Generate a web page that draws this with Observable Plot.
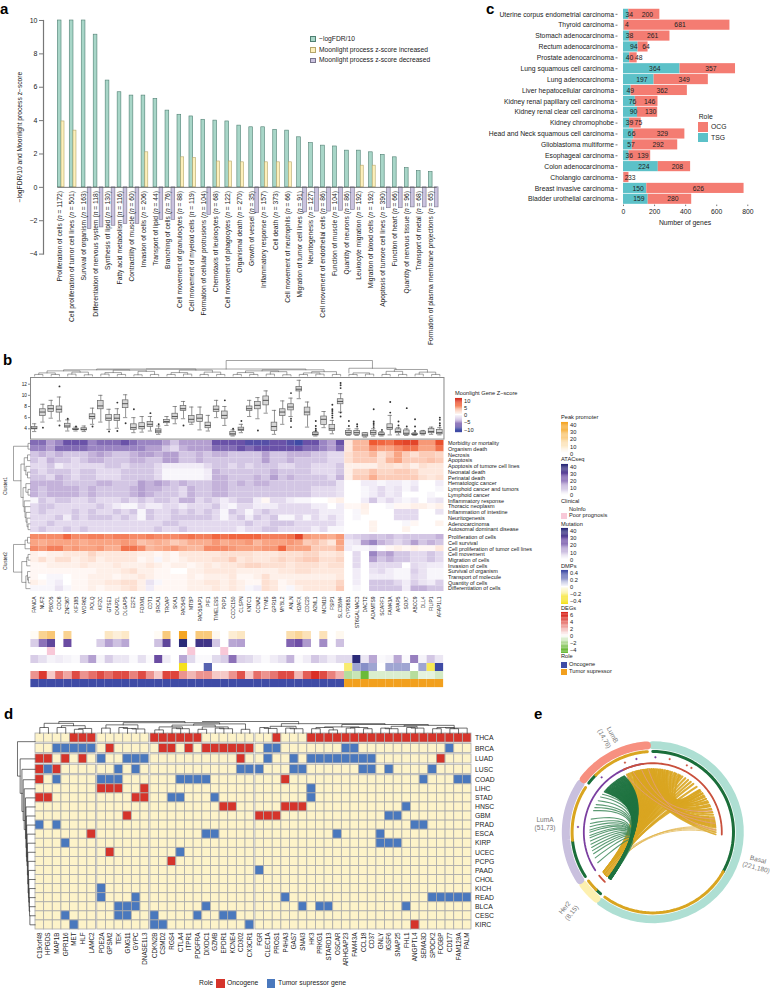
<!DOCTYPE html>
<html><head><meta charset="utf-8">
<script src="https://cdn.jsdelivr.net/npm/d3@7"></script>
<script src="https://cdn.jsdelivr.net/npm/@observablehq/plot@0.6"></script>
<style>
html,body{margin:0;padding:0;background:#fff}
#fig{position:relative;width:770px;height:988px;overflow:hidden;font-family:"Liberation Sans",Arial,sans-serif;color:#222}
#fig svg{position:absolute;background:none;overflow:visible}
.lab{position:absolute;white-space:nowrap;line-height:1}
.sw{position:absolute;box-sizing:border-box}
</style></head><body><div id="fig"></div>
<script>
// ---------- panel a ----------
const processes=["Proliferation of cells (n = 1172)","Cell proliferation of tumor cell lines (n = 501)","Survival of organism (n = 163)","Differentiation of nervous system (n = 118)","Synthesis of lipid (n = 130)","Fatty acid metabolism (n = 116)","Contractility of muscle (n = 60)","Invasion of cells (n = 206)","Transport of lipid (n = 44)","Branching of cells (n = 76)","Cell movement of granulocytes (n = 88)","Cell movement of myeloid cells (n = 119)","Formation of cellular protrusions (n = 104)","Chemotaxis of leukocytes (n = 68)","Cell movement of phagocytes (n = 122)","Organismal death (n = 270)","Growth of vessel (n = 35)","Inflammatory response (n = 157)","Cell death (n = 373)","Cell movement of neutrophils (n = 66)","Migration of tumor cell lines (n = 91)","Neuritogenesis (n = 127)","Cell movement of endothelial cells (n = 86)","Function of muscle (n = 104)","Quantity of neurons (n = 86)","Leukocyte migration (n = 192)","Migration of blood cells (n = 192)","Apoptosis of tumore cell lines (n = 390)","Function of heart (n = 66)","Quantity of nervous tissue (n = 96)","Transport of metal (n = 68)","Formation of plasma membrane projections (n = 65)"];
const logFDR=[10,10,10,9.15,6.4,5.7,5.5,5.5,5.3,4.6,4.35,4.25,4.05,4,3.95,3.7,3.6,3.6,3.45,3.4,3,2.65,2.5,2.45,2.2,2.2,2.1,1.95,1.8,1.15,.97,.92];
const processZ=[3.95,3.4,-2.5,-2.4,-2.3,-2.2,-2.2,2.1,-1.95,-1.95,1.8,1.75,-1.65,1.55,1.55,1.5,-1.55,1.5,1.5,1.5,-1.5,-1.45,-1.45,-1.4,-1.35,1.3,1.3,-1.25,-1.25,-1.2,-1.2,-1.2];
// ---------- panel b ----------
const genes=["FANCA","NUF2","PBXD5","CDC6","ZNF367","KIF18B","WDR62","POLQ","KIF2C","GTSE1","CKAP2L","DLGAP5","E2F2","FOXM1","CDT1","BRCA1","TROAP","SKA1","RAD54B","MTBP","RAD51AP1","PIF1","TIMELESS","POP1","CCDC150","CLSPN","KNTC1","CCNA2","TYMS","GPR19","MYBL2","ANLN","H2AFX","CDC20","A2ML1","MCM10","FSIP1","SLC35M4","CYP26B1","ST6GALNAC3","DACT2","ADAMTS9","SCARF1","FAM43A","APAP5","SOX7","ABCC9","DLL4","FILIP1","AFAP1L1"];
// lo, q1, median, q3, hi, outliers
const boxStats=[[3.5,3.9,4.1,4.3,4.9,[]],[5.2,6.3,7,7.5,8.4,[4.2]],[5.9,7,7.6,8.1,9.1,[]],[5.4,6.9,7.5,8,9.7,[11.6,4.6]],[3.6,4.2,4.5,4.9,5.6,[5.8]],[3.6,3.8,3.9,4,4.3,[4.4]],[3.5,3.7,3.9,4.1,4.5,[]],[4.8,5.7,6.2,6.6,7.7,[4.4]],[5.2,7.5,8.1,9,10,[]],[3.9,5.4,5.9,6.5,7.5,[3.5]],[4.1,5.4,5.9,6.5,7.6,[3.6,8.7]],[6,7.7,8.5,9.1,10.1,[5]],[3.3,3.8,4.2,4.8,6,[7.5]],[3.4,3.9,4.4,5,6.2,[]],[3.6,4.3,4.8,5.2,6.2,[6.8]],[3,3.2,3.6,3.9,4.5,[4.8]],[4.6,5,5.3,5.6,6.2,[]],[4.9,5.7,6.2,6.7,8,[]],[5.8,7.2,7.6,8.1,8.9,[4.6]],[4.8,5.1,5.7,6.3,7.9,[]],[3.8,5.2,5.9,6.5,7.9,[]],[3.6,4.1,4.6,5.1,6.4,[]],[6,7,7.5,8,9.1,[]],[4.6,5.8,6.4,7.1,8,[9.1]],[2.7,2.8,3.1,3.4,3.8,[4]],[3.3,3.6,3.9,4.2,4.8,[5.4]],[6.2,7.2,7.6,8,9.1,[]],[5.8,7.5,8.2,8.8,9.6,[3.7]],[6.8,8.2,9.1,9.8,10.8,[]],[3,3.6,4.4,5.1,7.3,[]],[4.8,6.3,7,7.5,9,[]],[6.2,7.3,7.9,8.4,9.5,[10.4,5.8,5.4,4.3]],[9.4,10.7,11.1,11.5,12.7,[]],[4.3,6.4,7,7.8,8.8,[]],[2.7,2.8,3,3.3,3.5,[3.7,4,4.5,5.4]],[4.2,4.7,5.7,6.2,7.1,[]],[3.1,3.6,4,4.7,5.5,[6,6.4,6.8,7.2,7.5,8.3]],[7,8.4,8.9,9.3,10.3,[6.2,6.9,11.3,11.8,12.2]],[2.8,2.9,3.3,3.6,4,[4.5,5.4]],[2.8,2.9,3.3,3.6,4,[4.4,4.8]],[2.5,2.6,2.9,3.2,3.3,[]],[2.7,2.9,3.3,3.6,4,[4.3,4.7,5,5.3,7.5]],[2.7,2.8,3,3.2,3.5,[3.8]],[2.9,3.8,4.2,4.8,6.4,[6.9,8.8]],[2.9,3.2,3.5,3.9,4.2,[4.6,5.3]],[2.8,2.9,3.2,3.7,4,[4.4,7.7]],[2.8,2.9,3,3.1,3.3,[3.6,4.4,5.7]],[2.9,3,3.2,3.5,3.7,[]],[3,3.2,3.5,4,4.3,[]],[2.9,3,3.3,3.8,4.2,[4.6,5,5.6,6]]];
const cluster1Rows=["Morbidity or mortality","Organism death","Necrosis","Apoptosis","Apoptosis of tumore cell lines","Neonatal death","Perinatal death","Hematologic cancer","Lymphoid cancer and tumors","Lymphoid cancer","Inflammatory response","Thoracic neoplasm","Inflammation of intestine","Neuritogenesis","Adenocarcinoma","Autosomal dominant disease"];
const cluster2Rows=["Proliferation of cells","Cell survival","Cell proliferation of tumor cell lines","Cell movement","Migration of cells","Invasion of cells","Survival of organism","Transport of molecule","Quantity of cells","Differentiation of cells"];
const cluster1Z=[
[-7,-7,-5,-6,-8,-8,-8,-6,-7,-7,-7,-8,-7,-6,-6,-6,-5,-3,-5,-5,-5,-5,-8,-8,-8,-8,-9,-9,-9,-8,-8,-9,-10,-8,-8,-6,-5,-8,1.5,4,4,8,7.5,7,8.5,9,9,5.5,5.5,8.5],
[-6,-6,-5,-7,-7,-7,-7,-6,-6,-6,-6,-6,-6,-6,-5,-5,-3,-2,-4,-5,-5,-5,-7,-7,-7,-8,-7,-8,-8,-8,-8,-8,-8,-7,-7,-6,-5,-7,1.5,4,4,6,5,5,6,7,7,5,5,7],
[-3,-4,-3,-4,-3,-3,-3,-4,-5,-4,-3,-3,-4,-5,-5,-4,-5,-5,-3,-3,-4,-3,-4,-4,-3,-3,-3,-3,-5,-3,-3,-4,-4,-4,-3,-3,-2,-2,2,3,3,4,2,3,5,3,2,3,3,2.5],
[-3,-2,-4,-3,-3,-2,-3,-4,-4,-3,-3,-3,-4,-4,-3,-3,-5,-5,-3,-3,-4,-3,-3,-3,-3,-3,-3,-3,-5,-3,-3,-4,-3,-3,-3,-3,-2,-2,2,3,3,3,2,4,5,3,3,3,3.5,3],
[-2,-2,-3,-1,-2,-2,-2,-2,-2,-3,-3,-2,-3,-3,-3,-2,-1,-1,-1,-1,-1,-2,-3,-3,-2,-3,-2,-3,-3,-3,-2,-2,-3,-3,-2,-2,-2,-3,1,1,1,1,2,2,1.5,2,1,2,1.5,1.5],
[-3,-2,-3,-3,-3,-2,-3,-3,-2,-2,-2,-3,-3,-3,-3,-2,-.5,-.5,-.5,-.5,-.5,-1,-4,-3,-3,-3,-3,-3,-3,-4,-3,-3,-3,-3,-2,-2,-2,-3,1,2.5,2.5,3.5,2.5,2.5,3,3,2.5,1.5,1.5,1.5],
[-3,-3,-2,-4,-3,-2,-3,-3,-2,-2,-2,-3,-3,-3,-3,-2,-.5,-.5,-.5,-.5,-.5,-1,-4,-4,-3,-3,-3,-4,-3,-5,-3,-4,-3,-3,-3,-3,-2,-4,1,3,3,4.5,3,3,3,3,3,2,1.5,2],
[-4,-4,-4,-4,-3,-3,-3,-3,-4,-4,-3,-3,-3,-5,-4,-5,-4,-3,-4,-3,-3,-3,-4,-4,-3,-4,-3,-4,-4,-3,-3,-3,-3,-3,-3,-3,-3,-1.5,0,0,-1,-1,-.5,-1,-1,-.5,-1,0,0,-1],
[-4,-3,-4,-4,-4,-4,-3,-4,-3,-3,-3,-3,-4,-5,-4,-4,-3,-3,-2,-4,-3,-3,-4,-4,-3,-3,-3,-3,-3,-3,-3,-3,-3,-3,-2,-2,-2,-1.5,0,0,-.5,-1,-2,-1,-1.5,-.5,-1.5,0,0,-.5],
[-4,-3,-4,-4,-4,-4,-3,-4,-3,-3,-3,-3,-4,-5,-4,-3,-3,-3,-2,-4,-3,-3,-4,-4,-3,-3,-3,-3,-3,-3,-3,-3,-3,-3,-2,-2,-2,-1.5,0,0,-.5,-1,-2,-1,-1.5,0,0,0,-.5,0],
[-.5,-3,-2,-3,-3,-2,-2,-3,-2,-2,-2,-3,-2,-3,-2,-3,-3,-2,-4,-4,-2,-3,-2,-1,-2,-3,-3,-1,.5,-2,-2,-1,-.5,-.5,0,0,.5,1,0,0,-1,-3,-1,-2,-1,-.5,-1,0,-1,-1.5],
[-2,-3,-3,-2,-2,-2,-2,-2,-3,-2,-1,-.5,-.5,-2,-1,-1,-2,-2,-1,-2,-2,-2,-3,-1,-.5,-2,-2,-1,-1,-1,-2,-2,-2,-2,-1,-1,0,-1,.5,.5,1,0,0,-.5,.5,.5,1,1,.5,1],
[-2,-3,-2,-2,-2,-3,-2,-3,-2,-2,-3,-2,-3,-.5,-3,-2,-2,-3,-2,-3,-2,-3,-2,-.5,-3,-2,-.5,-2,-3,-2,-2,-2,-2,-2,-2,-1,-1,-1,0,-.5,.8,0,0,0,-2,-2,-2,0,0,-1.5],
[-2,-2,-2,-3,-1,-3,-2,-3,-3,-3,-2,-3,-2,-.5,-3,-2,-2,-3,-3,-3,-3,-3,-2,-.5,-2,-3,-1,-3,-2,-3,-.5,-.5,-2,-.5,-2,-1,-2,-1,0,-.5,0,0,0,0,-2,-2,-2,0,0,0],
[-2,-2,-3,-2,-2,-2,-2,-2,-2,-2,-2,-2,-2,-2,-2,-2,-3,-3,-2,-2,-2,-2,-2,-2,-2,-2,-3,-2,-2,-3,-3,-3,-2,-2,-2,-2,-2,-1,0,0,0,.8,0,0,0,-.5,.5,0,0,.8],
[-2,-3,-2,-2,-3,-2,-3,-2,-2,-2,-2,-2,-2,-2,-2,-3,-2,-2,-3,-2,-2,-2,-2,-2,-2,-1,-2,-2,-3,-3,-2,-2,-2,-2,-1,-2,-.5,-.5,0,0,0,.8,0,0,0,.8,0,0,0,0]];
const cluster2Z=[
[6,6,6,6,7.5,6,6,6.5,6.5,6,6.5,6.5,6,6,6.5,6,6,6,6.5,7,6.5,6.5,7.5,7,7.5,7.5,7.5,7.5,6.5,6.5,6.5,7,9,5.5,5,5,4.5,5.5,-2,-2.5,-3,-3.5,-3,-3.5,-2.5,-3,-3,-3,-3,-4],
[5,4.5,5,5,5,5,4.5,5,5,5,5,5.5,5,3.5,4,4.5,4,3,3.5,4.5,4.5,4.5,5.5,4.5,5,5,5.5,4,5,5,5,5.5,5,3,3.5,2.5,1.5,5,-1,-1.5,-5,-6,-4,-3,-2,-3,-5,-3,-4,-3],
[6,5.5,6.5,6.5,5,5.5,5,5,5.5,4.5,4.5,7,7,6,4,4.5,5,5.5,4.5,4,4,6,6,6,5.5,5,5,5,5.5,5.5,7.5,5,5,5,3,3,3,4.5,-1,-.5,-.5,-1,0,.5,1,.5,1,.5,.5,1.5],
[1,.5,1,1,1.5,1.5,1.5,2.5,1.5,1.5,1.5,1.5,1.5,1,1,.5,1,.5,1.5,1.5,1.5,1.5,1.5,2,2,2,2,1.5,1.5,1.5,2,2,2,2.5,2.5,1.5,1.5,2,0,-2,0,-6,-4,-5,-3,-3,-2,-2,-3,-2],
[1,2,1,2,2,1,1.5,2,1,1.5,1.5,1.5,1.5,.5,1,-.5,1,.5,1,1.5,1.5,1.5,2,2,3,1.5,2,1.5,1.5,2,2.5,2,2.5,3,3,2,2,2.5,0,-2,0,-5,-3,-4,-3,-3,-2,-2,-3,-2],
[.5,.5,1,1,1,1,1.5,1,1,1,1.5,1,1,1,1.5,1,.5,1,1,.5,1,1.5,1,1.5,1.5,2,2.5,2.5,2,2,2,1.5,2,2,2,1.5,2,2,0,-2,0,-2,-2,-2,-2,0,-2,-1.5,-1,-1],
[.5,.5,.5,.5,.5,.5,.5,.5,1,1,1,1.5,2,1,1,.5,.5,0,0,1,1,1.5,1.5,1.5,1.5,1,1,1,1,1,1.5,1.5,2,2,1.5,1.5,1.5,1.5,0,-1,0,-1.5,-2,-1,-.5,-.5,-2.5,-1.5,-.5,-.5],
[.5,0,-.5,-.5,0,.5,.5,1,1,1,.5,1,1,1.5,1,.5,.5,.5,.5,1,.5,1,1,1,1.5,.5,.5,1,2,1,1,1,1,1,1,1,1,1.5,0,-1,0,-1,-1,-1,-.5,-.5,-2,-1.5,-.5,-.5],
[1,.5,-.5,-1,0,.5,.5,1,1,1.5,1.5,2,2,1,-1.5,-.5,.5,.5,.5,1,1,1.5,1.5,1,1.5,1,.5,.5,2,1.5,.5,1,1.5,1.5,1.5,1.5,1.5,2.5,0,-1,0,-3,-3,-3,-2,-1,-2.5,-1.5,-1,-2.5],
[-.5,-.5,-.5,-1.5,-.5,.5,.5,1,.5,1,1,1.5,2,1,-1,.5,.5,.5,.5,1,1,1,1.5,1,1.5,1,-.5,-1,2,1.5,.5,-.5,1,1.5,1.5,1.5,1.5,3,0,-.5,0,-3,-3,-3,-3,-1,-4,-4,-3,-3]];
const peakPromoter=[2,20,25,0,20,0,0,0,0,11,7,10,0,0,0,2,24,0,40,0,24,24,3,0,8,11,0,0,0,0,0,15,19,13,0,13,0,3,0,0,0,0,0,0,0,0,0,0,0,0];
const atacSeq=[8,22,30,0,28,0,0,0,8,15,10,14,0,0,0,10,30,0,44,0,36,36,9,0,14,15,0,0,0,0,0,24,27,16,0,18,0,10,0,0,0,0,0,0,0,0,0,0,0,0];
const clinical=[0,0,1,0,0,0,0,0,0,0,0,0,0,0,0,0,0,0,0,1,0,0,0,1,0,0,0,0,0,0,0,0,0,0,0,0,0,0,0,0,0,0,0,0,0,0,0,0,0,0];
const mutation=[8,5,2,3,2,1,8,15,2,8,4,4,1,5,1,28,3,0,14,6,1,1,6,8,22,7,6,3,1,3,5,12,1,3,9,6,3,6,6,45,4,14,1,2,14,1,20,2,9,4];
const dmps=[0,0,0,0,0,0,0,0,0,0,0,0,0,0,0,0,0,0,-.4,0,0,.35,0,0,0,0,0,0,0,0,0,0,0,0,0,0,0,0,-.25,.2,.25,.2,0,.2,.2,.2,0,.2,-.3,.4];
const degs=[3,5.5,1.5,4,2.5,5,3,4,5,4,5,5,3.5,5,3,1.5,5.2,5.2,3,2,3,3,1.5,1.5,3,4.8,1.5,4,3,3.8,5,5,2,4.5,5.8,5,3.5,2.2,-2,-1.5,-4,-1,-1,-1,-1,-1,-2,-.7,-.7,-1.2];
const bTopTree=[[.5,0,1.5,0,.1],[2.5,0,3.5,0,.1],[4.5,0,5.5,0,.12],[6.5,0,7.5,0,.08],[8.5,0,9.5,0,.12],[10.5,0,11.5,0,.1],[12.5,0,13.5,0,.08],[14.5,0,15.5,0,.1],[16.5,0,17.5,0,.1],[18.5,0,19.5,0,.12],[20.5,0,21.5,0,.1],[22.5,0,23.5,0,.1],[24.5,0,25.5,0,.1],[26.5,0,27.5,0,.1],[28.5,0,29.5,0,.12],[30.5,0,31.5,0,.08],[32.5,0,33.5,0,.1],[34.5,0,35.5,0,.12],[36.5,0,37.5,0,.1],[38.5,0,39.5,0,.1],[40.5,0,41.5,0,.12],[42.5,0,43.5,0,.1],[44.5,0,45.5,0,.1],[46.5,0,47.5,0,.12],[48.5,0,49.5,0,.1],[1,.1,3,.1,.2],[5,.12,7,.08,.25],[9,.12,11,.1,.22],[13,.08,15,.1,.3],[17,.1,19,.12,.22],[21,.1,23,.1,.25],[25,.1,27,.1,.22],[29,.12,31,.08,.28],[33,.1,35,.12,.2],[39,.1,41,.12,.2],[43,.1,45,.1,.3],[47,.12,49,.1,.25],[2,.2,6,.25,.33],[10,.22,14,.3,.38],[18,.22,22,.25,.38],[26,.22,30,.28,.33],[34,.2,37,.1,.28],[44,.3,48,.25,.42],[4,.33,12,.38,.4],[8,.4,20,.38,.45],[28,.33,35.5,.28,.4],[14,.45,33.3,.4,.45],[38.5,.2,44.2,.42,.5],[23.66,.45,41.35,.5,1]];
const bCluster1Tree=[[.5,0,1.5,0,.12],[2.5,0,3.5,0,.15],[5.5,0,6.5,0,.15],[4.5,0,6,.15,.25],[3,.15,5.25,.25,.35],[8.5,0,9.5,0,.12],[7.5,0,9,.12,.25],[14.5,0,15.5,0,.12],[13.5,0,15,.12,.18],[12.5,0,14.2,.18,.24],[11.5,0,13.4,.24,.3],[10.5,0,12.4,.3,.35],[8.2,.25,11.5,.35,.42],[4.1,.35,9.9,.42,.55],[1,.12,7,.55,1]];
const bCluster2Tree=[[.5,0,1.5,0,.15],[1,.15,2.5,0,.3],[3.5,0,4.5,0,.12],[4,.12,5.5,0,.2],[7.5,0,8.5,0,.1],[6.5,0,8,.1,.15],[7.25,.15,9.5,0,.25],[4.75,.2,8.4,.25,.5],[1.75,.3,6.6,.5,1]];
// ---------- panel c ----------
const cancers=["Uterine corpus endometrial carcinoma","Thyroid carcinoma","Stomach adenocarcinoma","Rectum adenocarcinoma","Prostate adenocarcinoma","Lung squamous cell carcinoma","Lung adenocarcinoma","Liver hepatocellular carcinoma","Kidney renal papillary cell carcinoma","Kidney renal clear cell carcinoma","Kidney chromophobe","Head and Neck squamous cell carcinoma","Glioblastoma multiforme","Esophageal carcinoma","Colon adenocarcinoma","Cholangio carcinoma","Breast invasive carcinoma","Bladder urothelial carcinoma"];
const tsgCounts=[34,4,38,94,40,364,197,49,76,90,39,66,57,36,224,2,150,159];
const ocgCounts=[200,681,261,64,48,357,349,362,146,130,75,329,292,139,208,33,626,280];
// ---------- panel d ----------
const dGenes=["C19orf48","HPGDS","MAP1B","GPR116","MET","HLF","LAMC2","PDE2A","GPSM2","TEK","GNG11","GYPC","DNASE1L3","CDKN2B","CSMD2","RGS4","CTLA4","ITPR1","PDGFRA","DIXDC1","GZMB","EPDR1","KCNE4","CD302","CX3CR1","FGR","CLEC1A","PROS1","P4HA3","GAS7","SNAI3","HK3","PRKG1","STARD13","OSCAR","ARHGAP23","FAM43A","CCL18","CD37","GNLY","IGSF6","SNAP25","FHL1","ANGPTL4","SEMA3D","SPOCK2","FCGBP","CD177","FAM129A","PALM"];
const dTumors=["THCA","BRCA","LUAD","LUSC","COAD","LIHC","STAD","HNSC","GBM","PRAD","ESCA","KIRP","UCEC","PCPG","PAAD","CHOL","KICH","READ","BLCA","CESC","KIRC"];
const dOncogene=[[4,5,6,13,14,15,16,17,18,27,31,32,33,34,35,36,37,38,39,40,41,42,43,44,45,46,47,48,49],[8,14,15,17,19,20,21,22,23,24],[0,1,3,5,23,46],[0,2],[0,28],[7,8,9,12],[0,1,11,12],[21,22,28,29,30],[10,25,26,27],[],[6],[],[8],[15],[],[],[],[],[],[],[43]];
const dTumorSup=[[],[2,3,4,5,6,26,27,35,36,47],[7,10,11,12,26,29,31,32,33,34,35,36,37,38],[1,9,11,23,24,25,29,30,37,38,40,45],[2,7,8,9,16,17,18,19,44,48,49],[31],[15,16,20,31],[42],[40,41],[0,2,43,44],[19,20,34,39],[3,39,40,41],[16],[],[25],[],[7],[7,11,28,45,46,47,48,49],[9,10,11,19,30,32,33,42],[3,9,10,13,18,21,22],[4,13,14,24]];
const dTopTree=[[.5,0,1.5,0,.5],[2.5,0,3.5,0,.5],[4.5,0,5.5,0,.35],[5,.35,6.5,0,.42],[3,.5,5.75,.42,.65],[1,.5,4.4,.65,.85],[7.5,0,8.5,0,.45],[9.5,0,10.5,0,.5],[10,.5,11.5,0,.42],[11,.42,12.5,0,.38],[8,.45,11.7,.38,.72],[13.5,0,14.5,0,.3],[15.5,0,16.5,0,.45],[16,.45,17.5,0,.4],[14,.3,16.7,.4,.55],[18.5,0,19.5,0,.35],[20.5,0,21.5,0,.45],[21,.45,22.5,0,.4],[23.5,0,24.5,0,.35],[19,.35,22,.4,.55],[15.5,.55,20.5,.55,.7],[24,.35,18,.7,.8],[10,.72,21,.8,.9],[2.7,.85,17,.9,1],[19,1,30,.8,1],[25.5,0,26.5,0,.5],[26,.5,27.5,0,.42],[28.5,0,29.5,0,.45],[29,.45,30.5,0,.4],[26.7,.42,29.7,.4,.6],[31.5,0,32.5,0,.4],[33.5,0,34.5,0,.3],[35.5,0,36.5,0,.45],[37.5,0,38.5,0,.4],[32,.4,34,.3,.5],[36,.45,38,.4,.5],[33,.5,37,.5,.55],[39.5,0,40.5,0,.45],[40,.45,41.5,0,.4],[42.5,0,43.5,0,.5],[43,.5,44.5,0,.45],[40.7,.4,43.7,.45,.6],[45.5,0,46.5,0,.4],[47.5,0,48.5,0,.4],[46,.4,48,.4,.5],[47,.5,49.5,0,.45],[42.2,.6,48,.45,.68],[35,.55,45,.68,.75],[28,.6,40,.75,.82]];
const dLeftTree=[[.9,0,4.1,.85,1],[2.5,0,6,.72,.85],[3.5,0,8,.68,.75],[4.5,0,9,.6,.68],[5.5,0,10,.55,.62],[6.5,0,11,.5,.55],[7.5,0,12,.48,.52],[8.5,0,13,.46,.5],[9.5,0,13.5,.44,.48],[10.5,0,14,.42,.46],[11.5,0,15,.4,.44],[12.5,0,16,.38,.42],[13.5,0,17,.36,.4],[14.5,0,17.5,.34,.38],[15.5,0,18,.32,.36],[16.5,0,18.5,.32,.34],[17.5,0,19,.3,.34],[18.5,0,19.5,.3,.32],[19.5,0,20.5,0,.3]];
// ---------- panel e ----------
const subtypes=["Basal","Her2","LumA","LumB"];
const subtypeTSG=[221,8,51,14];
const subtypeOCG=[180,15,73,76];
const subtypeColors=["#aedfd3","#fdf0b0","#c9c0de","#f79080"];
const deltaMarks=[[-21.8,"#c9503c"],[-12.6,"#7b3fa0"],[2,"#7b3fa0"],[13,"#c9503c"],[27,"#c9503c"],[31,"#c9503c"],[-43,"#7b3fa0"],[-86,"#7b3fa0"]];
const greenFan=[241,246,250,253,256,259,262,265,267,270,272,275,278,282,290,293,296,300,304,307];
const greenDense=[310,311,312,313,314,315,316,317,318,319,320,321,322,323,324,325,326,327,328,329,330,331,332,333];
const goldToHer2=[-24,-22.5,-21,-19,-18,-16,-14.5,-13,-11,-9.5,-8,-6,-4.5,-3,-1,1,2.5,4,6,7.5,9,11,13,14.5,16,18,20,22,24,26,28,31,34,37,40,44,48,52];
const goldLight=[86,87.5,89,90.5];
const goldWithin=[[-20,92],[-18,88],[-16,84],[-14,80],[-12,77],[-10,74],[-8,71],[-6,68],[-4,66],[-2,64],[0,62],[1,60],[3,58],[5,56],[7,54],[9,52],[11,50],[13,48],[-19,86],[-15,82],[-11,79],[-7,76],[-3,72],[1,69],[5,65],[9,61],[13,58],[17,55],[21,52],[25,49],[-17,90],[-13,85],[-9,83],[-5,81],[-1,78]];
const pinkChords=[[-25,82],[-18,78],[-10,70],[-4,88]];

// ---------- helpers ----------
const fig=document.getElementById("fig");
function chart([l,t,r,b],[pl,pt,pr,pb],opts){
  const svg=Plot.plot({width:r-l+pl+pr,height:b-t+pt+pb,marginLeft:pl,marginTop:pt,marginRight:pr,marginBottom:pb,
    style:{fontFamily:'"Liberation Sans",Arial,sans-serif',color:"#222",background:"none"},...opts});
  svg.style.left=(l-pl)+"px";svg.style.top=(t-pt)+"px";
  fig.append(svg);return svg;
}
function lab(x,y,text,{size=6,anchor="start",color="#222",rot=0,bold=false}={}){
  const d=document.createElement("div");d.className="lab";d.textContent=text;
  const tx=anchor==="start"?"0":anchor==="end"?"-100%":"-50%";
  d.style.cssText=`left:${x}px;top:${y}px;font-size:${size}px;color:${color};font-weight:${bold?"bold":"normal"};transform:translate(${tx},-50%) rotate(${rot}deg);`;
  fig.append(d);
}
function sw(x,y,w,h,fill,stroke){
  const d=document.createElement("div");d.className="sw";
  d.style.cssText=`left:${x}px;top:${y}px;width:${w}px;height:${h}px;background:${fill};${stroke?`border:.7px solid ${stroke};`:""}`;
  fig.append(d);
}
const treePts=tree=>tree.flatMap((m,k)=>[{k,p:m[0],h:m[1]},{k,p:m[0],h:m[4]},{k,p:m[2],h:m[4]},{k,p:m[2],h:m[3]}]);
const minus=s=>String(s).replace("-","\u2212");

// panel letters
lab(0,8,"a",{size:15,bold:true,color:"#000"});
lab(3,359,"b",{size:15,bold:true,color:"#000"});
lab(486,8,"c",{size:15,bold:true,color:"#000"});
lab(4,713,"d",{size:15,bold:true,color:"#000"});
lab(534,713,"e",{size:15,bold:true,color:"#000"});

// ---------- panel a ----------
const aData=processes.map((name,i)=>({name,i,fdr:logFDR[i],z:processZ[i]}));
const aSvg=chart([43,19.7,445,253.3],[42,3,26,92],{
  x:{domain:[-1.195,32.39],axis:null},y:{domain:[-4,10],axis:null},
  marks:[
    Plot.rect(aData,{x1:d=>d.i,x2:d=>d.i+.31,y1:0,y2:"fdr",fill:"#a8d6c8",stroke:"#4f7f72",strokeWidth:.6}),
    Plot.rect(aData.filter(d=>d.z>0),{x1:d=>d.i+.31,x2:d=>d.i+.56,y1:0,y2:"z",fill:"#fdf0bb",stroke:"#b5a66a",strokeWidth:.6}),
    Plot.rect(aData.filter(d=>d.z<0),{x1:d=>d.i+.5,x2:d=>d.i+.81,y1:0,y2:"z",fill:"#cbc3df",stroke:"#77738c",strokeWidth:.6}),
    Plot.ruleY([0],{x1:0,x2:31.7,stroke:"#555",strokeWidth:.8}),
    Plot.frame({anchor:"left",stroke:"#777",strokeWidth:1.2}),
    Plot.axisY({ticks:d3.range(-4,11,2),tickSize:4,tickPadding:2,fontSize:7,stroke:"#777",label:null}),
    Plot.text(aData,{x:d=>d.i+.18,y:-.22,text:"name",rotate:-90,textAnchor:"end",fontSize:6.7,fill:"#222"})
  ]});
aSvg.querySelectorAll("text").forEach(t=>{
  if(/\(n = /.test(t.textContent)) t.innerHTML=t.textContent.replace("(n = ",'(<tspan font-style="italic">n</tspan> = ');
});
lab(20,136.7,"\u2212logFDR/10 and Moonlight process z\u2212score",{size:6.7,anchor:"middle",rot:-90});
sw(309.5,36.2,6.5,5.5,"#a8d6c8","#4f7f72");lab(319,38.7,"\u2212logFDR/10",{size:6.7});
sw(309.5,47,6.5,5.5,"#fdf0bb","#b5a66a");lab(319,49.7,"Moonlight process z-score increased",{size:6.7});
sw(309.5,57.5,6.5,5.5,"#cbc3df","#77738c");lab(319,60,"Moonlight process z-score decreased",{size:6.7});

// ---------- panel b ----------
chart([29.5,360,443,375.5],[0,0,0,0],{x:{domain:[0,50],axis:null},y:{domain:[0,1],axis:null},
  marks:[Plot.line(treePts(bTopTree),{x:"p",y:"h",z:"k",stroke:"#666",strokeWidth:.6})]});
const boxData=boxStats.map(([lo,q1,med,q3,hi,out],i)=>({g:genes[i],lo,q1,med,q3,hi,out}));
const outData=boxData.flatMap(d=>d.out.map(v=>({g:d.g,v})));
const bandX={domain:genes,padding:0,round:false,axis:null};
chart([29.5,376.7,443,438.3],[12,0,1,0],{x:bandX,y:{domain:[2.15,13.2],axis:null},
  marks:[
    Plot.ruleX(boxData,{x:"g",y1:"lo",y2:"hi",stroke:"#666",strokeWidth:.7}),
    Plot.tickY(boxData,{x:"g",y:"lo",stroke:"#666",strokeWidth:.7,insetLeft:2,insetRight:2}),
    Plot.tickY(boxData,{x:"g",y:"hi",stroke:"#666",strokeWidth:.7,insetLeft:2,insetRight:2}),
    Plot.barY(boxData,{x:"g",y1:"q1",y2:"q3",fill:"#d6d6d6",stroke:"#666",strokeWidth:.7,insetLeft:1.3,insetRight:1.3}),
    Plot.tickY(boxData,{x:"g",y:"med",stroke:"#333",strokeWidth:.8,insetLeft:1.3,insetRight:1.3}),
    Plot.dot(outData,{x:"g",y:"v",r:.95,fill:"#333"}),
    Plot.frame({stroke:"#888",strokeWidth:1}),
    Plot.axisY({ticks:[4,6,8,10,12],tickSize:2,tickPadding:1.5,fontSize:4.8,stroke:"#888",label:null})
  ]});
const zColor={type:"linear",clamp:true,domain:[-10,-8,-5,-2,0,2,5,8,10],range:["#3f4ba5","#6a52a8","#b49fd0","#e3d9ee","#ffffff","#fde0d2","#f9a483","#ef5a32","#d7301f"]};
const heatLong=(rows,vals)=>rows.flatMap((r,i)=>genes.map((g,j)=>({r,g,v:vals[i][j]})));
chart([29.5,440,443,532],[0,0,120,0],{x:bandX,y:{domain:cluster1Rows,padding:0,round:false,axis:null},color:zColor,
  marks:[Plot.cell(heatLong(cluster1Rows,cluster1Z),{x:"g",y:"r",fill:"v"}),
    Plot.axisY({anchor:"right",tickSize:0,tickPadding:4,fontSize:5.5,label:null})]});
chart([29.5,533.5,443,590.5],[0,0,120,32],{x:bandX,y:{domain:cluster2Rows,padding:0,round:false,axis:null},color:zColor,
  marks:[Plot.cell(heatLong(cluster2Rows,cluster2Z),{x:"g",y:"r",fill:"v"}),
    Plot.axisY({anchor:"right",tickSize:0,tickPadding:4,fontSize:5.5,label:null}),
    Plot.axisX({anchor:"bottom",tickSize:0,tickPadding:5,tickRotate:-90,fontSize:4.9,label:null})]});
chart([13,440,29.5,532],[0,0,0,0],{x:{domain:[1,0],axis:null},y:{domain:[0,16],reverse:true,axis:null},
  marks:[Plot.line(treePts(bCluster1Tree),{x:"h",y:"p",z:"k",stroke:"#666",strokeWidth:.6})]});
chart([13,533.5,29.5,590.5],[0,0,0,0],{x:{domain:[1,0],axis:null},y:{domain:[0,10],reverse:true,axis:null},
  marks:[Plot.line(treePts(bCluster2Tree),{x:"h",y:"p",z:"k",stroke:"#666",strokeWidth:.6})]});
lab(6,486,"Cluster1",{size:4.8,anchor:"middle",rot:-90});
lab(6,561,"Cluster2",{size:4.8,anchor:"middle",rot:-90});

const peakC={type:"linear",clamp:true,domain:[0,40],range:["#ffffff","#f5a623"]};
const seqC={type:"linear",clamp:true,domain:[0,13,27,40],range:["#ffffff","#bfaed8","#6f4fa6","#2b2a78"]};
const dmpC={type:"linear",clamp:true,domain:[-.4,0,.4],range:["#f5e11c","#ffffff","#3f4ba5"]};
const degC={type:"linear",clamp:true,domain:[-4,0,6],range:["#6cba3a","#ffffff","#d9271e"]};
const clinC={type:"linear",domain:[0,1],range:["#ffffff","#f8c8d8"]};
const roleC={type:"linear",domain:[0,1],range:["#f2a01e","#3f4ba5"]};
const tracks=[[peakPromoter,peakC],[atacSeq,seqC],[clinical,clinC],[mutation,seqC],[dmps,dmpC],[degs,degC],[genes.map((g,i)=>i<38?1:0),roleC]];
tracks.forEach(([vals,color],k)=>{
  const t=630.6+8.14*k;
  chart([29.5,t,443,t+8.14],[0,0,0,0],{x:bandX,color,
    marks:[Plot.cell(genes.map((g,i)=>({g,v:vals[i]})),{x:"g",fill:"v"})]});
});
function ramp(title,ticks,titleY,firstY,stepY,color,x=561){
  lab(x,titleY,title,{size:5.7});
  const hi=ticks[0],lo=ticks[ticks.length-1],per=(hi-lo)/((ticks.length-1)*stepY),ext=3;
  const y0=firstY-ext,y1=firstY+stepY*(ticks.length-1)+ext;
  const n=30,dv=(hi-lo+2*ext*per)/n,vals=d3.range(n).map(i=>lo-ext*per+i*dv);
  chart([x,y0,x+7,y1],[0,0,16,0],{x:{domain:[0,1],axis:null},y:{domain:[lo-ext*per,hi+ext*per],axis:null},color,
    marks:[Plot.rect(vals,{x1:0,x2:1,y1:d=>d,y2:d=>d+dv*1.05,fill:d=>d}),
      Plot.text(ticks,{x:1,y:d=>d,text:d=>minus(d),dx:1.5,textAnchor:"start",fontSize:5.7})]});
}
ramp("Moonlight Gene Z\u2212score",[10,5,0,-5,-10],394,400.7,7.05,zColor,455);
ramp("Peak promoter",[40,30,20,10,0],418,424.7,7.07,peakC);
ramp("ATACseq",[40,30,20,10,0],460,466.7,7,seqC);
lab(561,502,"Clinical",{size:5.7});lab(569,509.7,"NoInfo",{size:5.7});
sw(561,513,6,6,"#f8c8d8");lab(569,516,"Poor prognosis",{size:5.7});
ramp("Mutation",[40,30,20,10,0],524.7,531,7.07,seqC);
ramp("DMPs",[.4,.2,0,-.2,-.4],566.7,573.3,7,dmpC);
ramp("DEGs",[6,4,2,0,-2,-4],608.7,615,7,degC);
lab(561,657,"Role",{size:5.7});
sw(561,662,6,6,"#3f4ba5");lab(569,665,"Oncogene",{size:5.7});
sw(561,668.6,6,6,"#f2a01e");lab(569,671.5,"Tumor supressor",{size:5.7});

// ---------- panel c ----------
const cLong=cancers.flatMap((name,i)=>[
  {name,role:"TSG",n:tsgCounts[i],x1:0,x2:tsgCounts[i]},
  {name,role:"OCG",n:ocgCounts[i],x1:tsgCounts[i],x2:tsgCounts[i]+ocgCounts[i]}]);
chart([623,8.2,747.3,204.8],[0,0,0,0],{
  x:{domain:[0,800],axis:null},y:{domain:cancers,padding:.07,round:false,axis:null},
  color:{domain:["OCG","TSG"],range:["#f47c72","#5cc1c8"]},
  marks:[
    Plot.barX(cLong,{x1:"x1",x2:"x2",y:"name",fill:"role"}),
    Plot.text(cLong,{x:d=>(d.x1+d.x2)/2+(d.role==="OCG"&&d.n<50?15:0),y:"name",text:"n",dx:3,fontSize:6.8,fill:"#222"}),
    Plot.axisY({tickSize:2,tickPadding:2,dx:-5.5,fontSize:6.8,stroke:"#777",label:null}),
    Plot.axisX({ticks:[0,200,400,600,800],tickSize:1.5,tickPadding:3,fontSize:6.8,stroke:"#777",label:null})
  ]});
lab(685,223,"Number of genes",{size:6.8,anchor:"middle"});
lab(698.7,117,"Role",{size:6.8});
sw(698,122,9.7,9.7,"#f47c72");lab(711,127,"OCG",{size:6.8});
sw(698,132.7,9.7,9.7,"#5cc1c8");lab(711,137.5,"TSG",{size:6.8});

// ---------- panel d ----------
const gapU=.15;
const colU=p=>p+gapU*((p>=7)+(p>=13)+(p>=25));
const rowU=i=>i+gapU*((i>=1)+(i>=2)+(i>=3)+(i>=4));
const dCells=dTumors.flatMap((t,i)=>dGenes.map((g,j)=>({t,g,i,j,
  role:dOncogene[i].includes(j)?"Oncogene":dTumorSup[i].includes(j)?"Tumor":"None"})));
chart([34.7,733,470.7,929],[0,0,24,0],{
  x:{domain:[0,50.45],axis:null},y:{domain:[0,21.6],reverse:true,axis:null},
  color:{domain:["None","Oncogene","Tumor"],range:["#fdf3c9","#d5342b","#4a78bd"]},
  marks:[
    Plot.rect(dCells,{x1:d=>colU(d.j),x2:d=>colU(d.j)+1,y1:d=>rowU(d.i),y2:d=>rowU(d.i)+1,fill:"role",stroke:"#aaa",strokeWidth:.8}),
    Plot.text(dTumors,{x:50.45,y:(d,i)=>rowU(i)+.5,text:d=>d,dx:3.5,textAnchor:"start",fontSize:6.8}),
    Plot.text(dGenes,{x:(d,j)=>colU(j)+.5,y:21.6,text:d=>d,dy:3,rotate:-90,textAnchor:"end",fontSize:6.3})
  ]});
chart([34.7,721,470.7,733],[0,0,0,0],{x:{domain:[0,50.45],axis:null},y:{domain:[0,1],axis:null},
  marks:[Plot.line(treePts(dTopTree),{x:d=>colU(d.p),y:"h",z:"k",stroke:"#333",strokeWidth:.7})]});
chart([17,733,34.7,929],[0,0,0,0],{x:{domain:[1,0],axis:null},y:{domain:[0,21.6],reverse:true,axis:null},
  marks:[Plot.line(treePts(dLeftTree),{x:"h",y:d=>rowU(Math.floor(d.p))+(d.p-Math.floor(d.p)),z:"k",stroke:"#333",strokeWidth:.7})]});
lab(199,983,"Role",{size:6.8});
sw(216,979,8.5,8.5,"#d5342b");lab(227,983,"Oncogene",{size:6.8});
sw(266.7,979,8,8.5,"#4a78bd");lab(278,983,"Tumor supressor gene",{size:6.8});

// ---------- panel e ----------
const polar=(deg,r)=>({x:r*Math.sin(deg*Math.PI/180),y:-r*Math.cos(deg*Math.PI/180)});
const totalGenes=d3.sum(subtypeTSG)+d3.sum(subtypeOCG);
const sectorGap=3.9,perGene=(360-4*sectorGap)/totalGenes;
const arc=(id,a,b,r)=>d3.range(0,41).map(i=>({id,...polar(a+(b-a)*i/40,r)}));
let cursor=0;const sectors=[];
subtypes.forEach((s,i)=>{const a=cursor,m=a+subtypeTSG[i]*perGene,b=m+subtypeOCG[i]*perGene;sectors.push({s,a,m,b,color:subtypeColors[i]});cursor=b+sectorGap;});
const outerMarks=sectors.map(s=>Plot.line(arc(s.s,s.a,s.b,87),{x:"x",y:"y",stroke:s.color,strokeWidth:8}));
const midMarks=sectors.flatMap(s=>[
  Plot.line(arc(s.s+"t",s.a,s.m,80.7),{x:"x",y:"y",stroke:"#1b6e3a",strokeWidth:3}),
  Plot.line(arc(s.s+"o",s.m,s.b,80.7),{x:"x",y:"y",stroke:"#d9a520",strokeWidth:3})]);
const quad=(id,a,b,c,r=63)=>{const p=polar(a,r),q=polar(b,r);
  return d3.range(0,21).map(i=>{const t=i/20,u=1-t;return {id,x:u*u*p.x+2*u*t*c.x+t*t*q.x,y:u*u*p.y+2*u*t*c.y+t*t*q.y};});};
const her2Ends=[226,228,230,227,229,231];
const greenEnds=[222,223,224,223.5,222.5];
const withinC=(a,b)=>polar((a+b)/2,18);
const chordMark=(pts,stroke,sw_,op)=>Plot.line(pts,{x:"x",y:"y",z:"id",stroke,strokeWidth:sw_,strokeOpacity:op});
chart([540,725,768,945],[0,0,0,0],{
  x:{domain:[540-652.3,768-652.3],axis:null},y:{domain:[725-831.7,945-831.7],reverse:true,axis:null},
  marks:[...outerMarks,...midMarks,
    chordMark(goldWithin.flatMap((d,i)=>quad("w"+i,d[0],d[1],withinC(d[0],d[1]))),"#d9a520",1.6,.9),
    chordMark(goldToHer2.flatMap((a,i)=>quad("h"+i,a,her2Ends[i%6],{x:-7,y:-13})),"#d9a520",2.2,.9),
    chordMark(goldLight.flatMap((a,i)=>quad("l"+i,a,her2Ends[i%6],{x:-7,y:-13})),"#e2b64f",1,.75),
    chordMark(pinkChords.flatMap((d,i)=>quad("p"+i,d[0],d[1],withinC(d[0],d[1]))),"#e59a8f",.9,.8),
    chordMark(greenFan.flatMap((a,i)=>quad("f"+i,a,greenEnds[i%5],{x:8,y:-24})),"#3f8a5c",1.1,.85),
    chordMark(greenDense.flatMap((a,i)=>quad("g"+i,a,greenEnds[i%5],{x:5,y:-22})),"#1f7340",1.6,.95),
    Plot.line(arc("purple",236.5,352,69),{x:"x",y:"y",stroke:"#7b3fa0",strokeWidth:1.8,strokeDasharray:"15 .7"}),
    Plot.line(arc("red1",-25,92,69),{x:"x",y:"y",stroke:"#c9503c",strokeWidth:1.8,strokeDasharray:"18 .7"}),
    Plot.line(arc("red2",224,231,69),{x:"x",y:"y",stroke:"#c9503c",strokeWidth:1.8,strokeDasharray:"4 .8"}),
    Plot.dot(deltaMarks,{x:d=>polar(d[0],75).x,y:d=>polar(d[0],75).y,r:.9,fill:d=>d[1],stroke:d=>d[1],strokeWidth:.3})
  ],color:{type:"identity"}});
lab(611.7,735,"LumB",{size:6.6,anchor:"middle",color:"#777",rot:62});
lab(604.3,739,"(14,76)",{size:6.6,anchor:"middle",color:"#777",rot:62});
lab(545,820,"LumA",{size:6.6,anchor:"middle",color:"#777"});
lab(545,828,"(51,73)",{size:6.6,anchor:"middle",color:"#777"});
lab(758,860,"Basal",{size:6.6,anchor:"middle",color:"#777",rot:15});
lab(756,867.7,"(221,180)",{size:6.6,anchor:"middle",color:"#777",rot:15});
lab(565,908,"Her2",{size:6.6,anchor:"middle",color:"#777",rot:-50});
lab(571.7,912.7,"(8,15)",{size:6.6,anchor:"middle",color:"#777",rot:-50});
</script></body></html>
